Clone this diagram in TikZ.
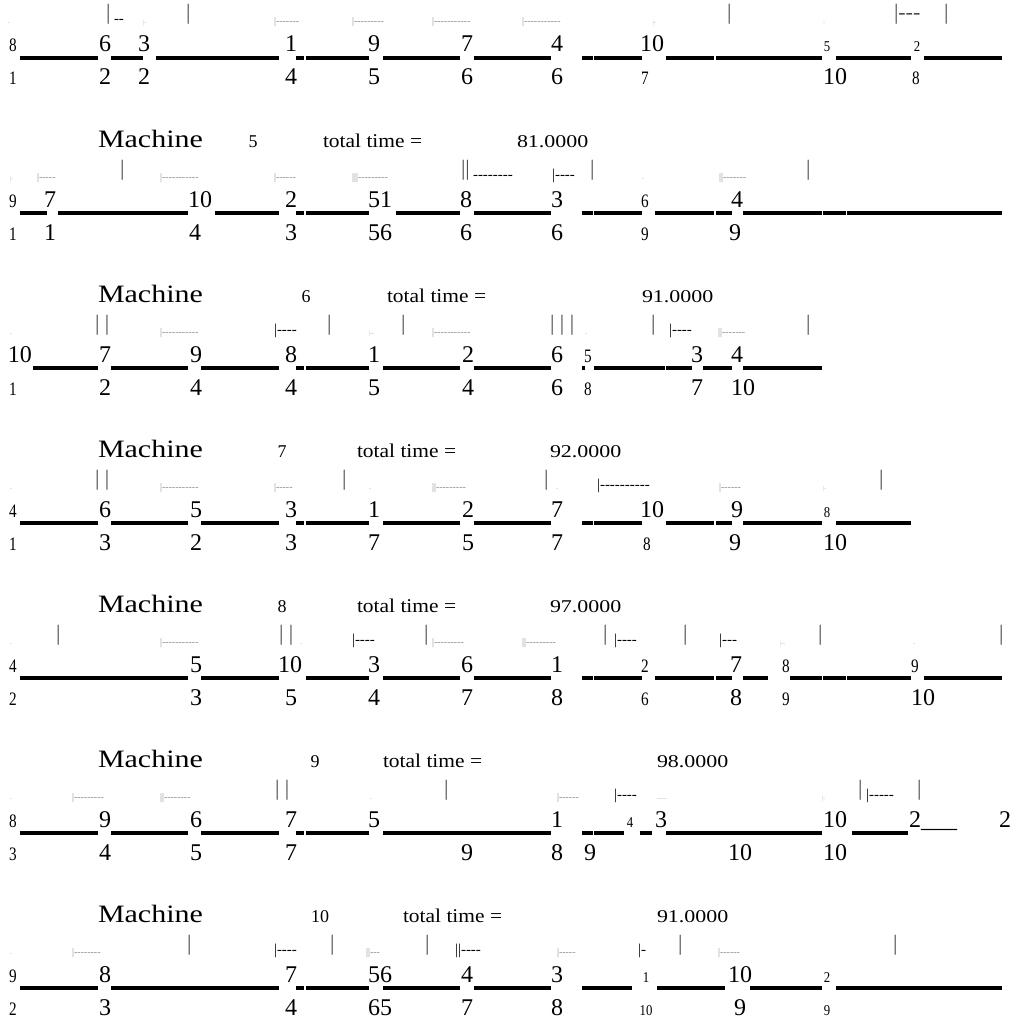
\documentclass[tikz,border=0pt]{standalone}
\usepackage{fontspec}
\setmainfont{Liberation Serif}[Ligatures=TeXOff]
\newcommand{\fsz}[1]{\fontsize{#1}{#1}\selectfont}

\begin{document}
\begin{tikzpicture}[
		x=1pt, y=-1pt,
		every node/.style={inner sep=0pt, outer sep=0pt},
		dbig/.style={anchor=base, font=\fsz{24}},
		dmid/.style={anchor=base, font=\fsz{19}, xscale=0.8},
		dsmall/.style={anchor=base, font=\fsz{15}, xscale=0.85},
		tkbar/.style={anchor=base west, font=\fsz{22}, text=black!70},
		tkdash/.style={anchor=base west, font=\fsz{15}},
		tkmid/.style={anchor=base west, font=\fsz{10}, text=black!45},
		tktiny/.style={anchor=base west, font=\fsz{6}, text=black!30},
		gantt/.style={line width=4pt},
		machine/.style={anchor=base west, font=\fsz{25}, xscale=1.2},
		mnum/.style={anchor=base, font=\fsz{18}},
		ttime/.style={anchor=base west, font=\fsz{19.5}, xscale=1.1},
		tval/.style={anchor=base west, font=\fsz{18}, xscale=1.22}
		]
		\useasboundingbox (0,0) rectangle (1015,1022);
		
		% Headers
		\foreach \y/\n/\nx/\tx/\v/\vx in {147/5/253/323/81.0000/517, 302/6/306/387/91.0000/642,
			457/7/282/357/92.0000/550, 612/8/282/357/97.0000/550,
			767/9/315/383/98.0000/657, 922/10/320/403/91.0000/657}{
			\node[machine] (mach\n) at (98,\y) {Machine};
			\node[mnum] (num\n) at (\nx,\y) {\n};
			\node[ttime] (tt\n) at (\tx,\y) {total time =};
			\node[tval] (val\n) at (\vx,\y) {\v};
		}
		
		% Block A
		\begin{scope}[yshift=0pt]
			\foreach \a/\b in {20/98,111/143,156/279,296/304,306/369,383/460,474/551,582/593,594/642,666/714,716/822,836/911,924/1002}
			\draw[gantt] (\a,58) -- (\b,58);
			\foreach \x/\t [count=\i] in {105/6,144/3,291/1,374/9,467/7,557/4,652/10} \node[dbig] (Atop\i) at (\x,52) {\t};
			\foreach \x/\t [count=\i] in {13/8} \node[dmid] (Atopm\i) at (\x,52) {\t};
			\foreach \x/\t [count=\i] in {827/5,917/2} \node[dsmall] (Atops\i) at (\x,52) {\t};
			\foreach \x/\t [count=\i] in {105/2,144/2,291/4,374/5,467/6,557/6,835/10} \node[dbig] (Abot\i) at (\x,85) {\t};
			\foreach \x/\t [count=\i] in {13/1,645/7,916/8} \node[dmid] (Abotm\i) at (\x,85) {\t};
			\foreach \x/\t [count=\i] in {106/|,186/|,727/|,944/|,894/|---} \node[tkbar] (Abar\i) at (\x,20) {\t};
			\foreach \x/\t [count=\i] in {114/--} \node[tkdash] (Adash\i) at (\x,24) {\t};
			\foreach \x/\t [count=\i] in {274/|-------,352/|---------,432/|-----------,522/|-----------} \node[tkmid] (Amid\i) at (\x,25) {\t};
			\foreach \x/\t [count=\i] in {8/-,143/|-,653/|-,823/-} \node[tktiny] (Atiny\i) at (\x,25) {\t};
		\end{scope}
		
		% Block B
		\begin{scope}[yshift=-155pt]
			\foreach \a/\b in {20/47,58/188,215/279,296/304,306/369,396/460,474/551,582/593,594/642,655/714,716/732,743/822,823/846,847/1002}
			\draw[gantt] (\a,58) -- (\b,58);
			\foreach \x/\t [count=\i] in {50/7,200/10,291/2,380/51,466/8,557/3,737/4} \node[dbig] (Btop\i) at (\x,52) {\t};
			\foreach \x/\t [count=\i] in {13/9,645/6} \node[dmid] (Btopm\i) at (\x,52) {\t};
			\foreach \x/\t [count=\i] in {50/1,195/4,291/3,380/56,466/6,557/6,735/9} \node[dbig] (Bbot\i) at (\x,85) {\t};
			\foreach \x/\t [count=\i] in {13/1,645/9} \node[dmid] (Bbotm\i) at (\x,85) {\t};
			\foreach \x/\t [count=\i] in {120/|,590/|,806/|,461/||} \node[tkbar] (Bbar\i) at (\x,20) {\t};
			\foreach \x/\t [count=\i] in {473/--------,552/|----} \node[tkdash] (Bdash\i) at (\x,24) {\t};
			\foreach \x/\t [count=\i] in {37/|-----,160/|-----------,274/|------,352/|||---------,719/||-------} \node[tkmid] (Bmid\i) at (\x,25) {\t};
			\foreach \x/\t [count=\i] in {10/|-,642/-} \node[tktiny] (Btiny\i) at (\x,25) {\t};
		\end{scope}
		
		% Block C
		\begin{scope}[yshift=-310pt]
			\foreach \a/\b in {33/98,111/188,201/279,296/304,306/369,383/460,474/551,582/585,594/665,666/692,703/732,743/822}
			\draw[gantt] (\a,58) -- (\b,58);
			\foreach \x/\t [count=\i] in {20/10,105/7,196/9,291/8,374/1,468/2,557/6,697/3,737/4} \node[dbig] (Ctop\i) at (\x,52) {\t};
			\foreach \x/\t [count=\i] in {588/5} \node[dmid] (Ctopm\i) at (\x,52) {\t};
			\foreach \x/\t [count=\i] in {105/2,196/4,291/4,374/5,468/4,557/6,697/7,743/10} \node[dbig] (Cbot\i) at (\x,85) {\t};
			\foreach \x/\t [count=\i] in {13/1,588/8} \node[dmid] (Cbotm\i) at (\x,85) {\t};
			\foreach \x/\t [count=\i] in {95/{| |},327/|,401/|,550/{| | |},651/|,806/|} \node[tkbar] (Cbar\i) at (\x,20) {\t};
			\foreach \x/\t [count=\i] in {274/|----,669/|----} \node[tkdash] (Cdash\i) at (\x,24) {\t};
			\foreach \x/\t [count=\i] in {160/|-----------,432/|-----------,718/||-------} \node[tkmid] (Cmid\i) at (\x,25) {\t};
			\foreach \x/\t [count=\i] in {10/-,369/|--,585/-} \node[tktiny] (Ctiny\i) at (\x,25) {\t};
		\end{scope}
		
		% Block D
		\begin{scope}[yshift=-465pt]
			\foreach \a/\b in {20/98,111/188,201/279,296/304,306/369,383/460,474/551,582/593,594/642,666/714,716/732,743/822,836/911}
			\draw[gantt] (\a,58) -- (\b,58);
			\foreach \x/\t [count=\i] in {105/6,196/5,291/3,374/1,468/2,557/7,652/10,737/9} \node[dbig] (Dtop\i) at (\x,52) {\t};
			\foreach \x/\t [count=\i] in {13/4} \node[dmid] (Dtopm\i) at (\x,52) {\t};
			\foreach \x/\t [count=\i] in {827/8} \node[dsmall] (Dtops\i) at (\x,52) {\t};
			\foreach \x/\t [count=\i] in {105/3,196/2,291/3,374/7,468/5,557/7,735/9,835/10} \node[dbig] (Dbot\i) at (\x,85) {\t};
			\foreach \x/\t [count=\i] in {13/1,647/8} \node[dmid] (Dbotm\i) at (\x,85) {\t};
			\foreach \x/\t [count=\i] in {95/{| |},342/|,544/|,879/|} \node[tkbar] (Dbar\i) at (\x,20) {\t};
			\foreach \x/\t [count=\i] in {597/|----------} \node[tkdash] (Ddash\i) at (\x,24) {\t};
			\foreach \x/\t [count=\i] in {160/|-----------,274/|-----,432/||---------,719/|------} \node[tkmid] (Dmid\i) at (\x,25) {\t};
			\foreach \x/\t [count=\i] in {10/-,369/-,556/-,823/|-} \node[tktiny] (Dtiny\i) at (\x,25) {\t};
		\end{scope}
		
		% Block E
		\begin{scope}[yshift=-620pt]
			\foreach \a/\b in {20/188,201/279,306/369,383/460,474/551,582/593,594/642,655/714,716/732,743/768,790/822,823/846,847/911,924/1002}
			\draw[gantt] (\a,58) -- (\b,58);
			\foreach \x/\t [count=\i] in {196/5,290/10,374/3,467/6,557/1,736/7} \node[dbig] (Etop\i) at (\x,52) {\t};
			\foreach \x/\t [count=\i] in {13/4,645/2,786/8,915/9} \node[dmid] (Etopm\i) at (\x,52) {\t};
			\foreach \x/\t [count=\i] in {196/3,291/5,374/4,467/7,557/8,736/8,923/10} \node[dbig] (Ebot\i) at (\x,85) {\t};
			\foreach \x/\t [count=\i] in {13/2,645/6,786/9} \node[dmid] (Ebotm\i) at (\x,85) {\t};
			\foreach \x/\t [count=\i] in {56/|,279/{| |},424/|,603/|,683/|,818/|,999/|} \node[tkbar] (Ebar\i) at (\x,20) {\t};
			\foreach \x/\t [count=\i] in {352/|----,614/|----,719/|---} \node[tkdash] (Edash\i) at (\x,24) {\t};
			\foreach \x/\t [count=\i] in {160/|-----------,432/|---------,522/||---------} \node[tkmid] (Emid\i) at (\x,25) {\t};
			\foreach \x/\t [count=\i] in {10/-,300/-,780/|--,913/-} \node[tktiny] (Etiny\i) at (\x,25) {\t};
		\end{scope}
		
		% Block F
		\begin{scope}[yshift=-775pt]
			\foreach \a/\b in {20/98,111/188,201/279,296/304,306/369,383/551,582/593,594/624,640/652,666/822,852/908}
			\draw[gantt] (\a,58) -- (\b,58);
			\foreach \x/\t [count=\i] in {105/9,196/6,291/7,374/5,557/1,661/3,835/10,1005/2} \node[dbig] (Ftop\i) at (\x,52) {\t};
			\node[dbig, anchor=base west] (Ftail) at (909,52) {2\_\_\_};
			\foreach \x/\t [count=\i] in {13/8} \node[dmid] (Ftopm\i) at (\x,52) {\t};
			\foreach \x/\t [count=\i] in {630/4} \node[dsmall] (Ftops\i) at (\x,52) {\t};
			\foreach \x/\t [count=\i] in {105/4,196/5,291/7,467/9,557/8,590/9,740/10,835/10} \node[dbig] (Fbot\i) at (\x,85) {\t};
			\foreach \x/\t [count=\i] in {13/3} \node[dmid] (Fbotm\i) at (\x,85) {\t};
			\foreach \x/\t [count=\i] in {275/{| |},444/|,858/|,917/|} \node[tkbar] (Fbar\i) at (\x,20) {\t};
			\foreach \x/\t [count=\i] in {614/|----,866/|-----} \node[tkdash] (Fdash\i) at (\x,24) {\t};
			\foreach \x/\t [count=\i] in {72/|---------,160/||--------,557/|------} \node[tkmid] (Fmid\i) at (\x,25) {\t};
			\foreach \x/\t [count=\i] in {10/-,370/-,657/-----,822/|-} \node[tktiny] (Ftiny\i) at (\x,25) {\t};
		\end{scope}
		
		% Block G
		\begin{scope}[yshift=-930pt]
			\foreach \a/\b in {20/98,111/279,296/304,306/369,383/460,474/551,582/632,657/725,750/822,836/1002}
			\draw[gantt] (\a,58) -- (\b,58);
			\foreach \x/\t [count=\i] in {105/8,291/7,380/56,467/4,557/3,740/10} \node[dbig] (Gtop\i) at (\x,52) {\t};
			\foreach \x/\t [count=\i] in {13/9} \node[dmid] (Gtopm\i) at (\x,52) {\t};
			\foreach \x/\t [count=\i] in {646/1,827/2} \node[dsmall] (Gtops\i) at (\x,52) {\t};
			\foreach \x/\t [count=\i] in {105/3,291/4,380/65,467/7,557/8,740/9} \node[dbig] (Gbot\i) at (\x,85) {\t};
			\foreach \x/\t [count=\i] in {13/2} \node[dmid] (Gbotm\i) at (\x,85) {\t};
			\foreach \x/\t [count=\i] in {646/10,827/9} \node[dsmall] (Gbots\i) at (\x,85) {\t};
			\foreach \x/\t [count=\i] in {187/|,330/|,425/|,678/|,893/|} \node[tkbar] (Gbar\i) at (\x,20) {\t};
			\foreach \x/\t [count=\i] in {274/|----,455/||----,638/|-} \node[tkdash] (Gdash\i) at (\x,24) {\t};
			\foreach \x/\t [count=\i] in {72/|--------,366/||---,557/|-----,718/|------} \node[tkmid] (Gmid\i) at (\x,25) {\t};
			\foreach \x/\t [count=\i] in {10/-} \node[tktiny] (Gtiny\i) at (\x,25) {\t};
		\end{scope}
	\end{tikzpicture}
\end{document}
